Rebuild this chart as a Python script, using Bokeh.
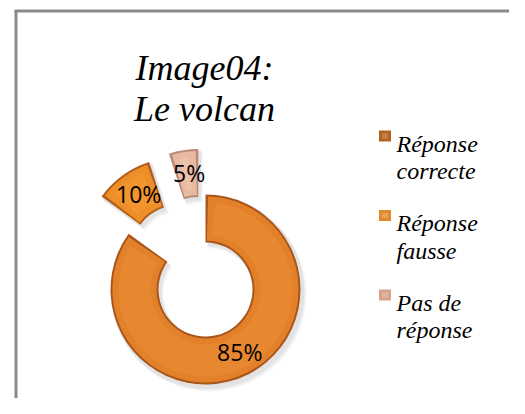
import numpy as np
from bokeh.plotting import figure
from bokeh.models import Range1d
from bokeh.core.properties import value
from bokeh.embed import file_html
from bokeh.resources import INLINE

# ---- data ----
categories = ["Réponse correcte", "Réponse fausse", "Pas de réponse"]
legend_lines = [["Réponse", "correcte"], ["Réponse", "fausse"], ["Pas de", "réponse"]]
values = [85, 10, 5]
pct_labels = ["85%", "10%", "5%"]
title_lines = ["Image04:", "Le volcan"]

# ---- styles ----
edge_colors = ["#A9561A", "#B05E1A", "#B88B78"]
body_colors = ["#E3812A", "#EE8E28", "#E8BAA2"]
light_colors = ["#EA8E36", "#F59A30", "#F0C8B4"]
legend_colors = ["#B4631E", "#E08A2A", "#D6A38A"]
explode = [0, 1, 1]
EXPLODE_PX = 46

W, H = 509, 398
REF_H = 414


def Y(sy):
    return REF_H - sy


p = figure(width=W, height=H, output_backend="svg", toolbar_location=None,
           x_range=Range1d(0, W), y_range=Range1d(Y(H), Y(0)),
           min_border=0, min_border_left=0, min_border_right=0,
           min_border_top=0, min_border_bottom=0)
p.axis.visible = False
p.xgrid.visible = False
p.ygrid.visible = False
p.outline_line_color = None
p.background_fill_color = "white"
p.border_fill_color = "white"

# frame (chart area border)
p.segment(x0=[14, 15.5], y0=[Y(10.5), Y(10.5)], x1=[W, 15.5], y1=[Y(10.5), Y(H)],
          line_color="#8a8a8a", line_width=3)

# ---- donut geometry ----
cx, cy = 205, Y(289)
r_in, r_out = 47, 95
vals = np.array(values, dtype=float)
frac = vals / vals.sum()
cum = np.concatenate([[0], np.cumsum(frac)])
a_end = np.pi / 2 - 2 * np.pi * cum[:-1]
a_start = np.pi / 2 - 2 * np.pi * cum[1:]
mid = (a_start + a_end) / 2
ex = np.array(explode) * EXPLODE_PX
xs = cx + ex * np.cos(mid)
ys = cy + ex * np.sin(mid)

# soft shadow
for dx, dy, al in [(4, -5, 0.05), (3, -4, 0.07), (2, -2.5, 0.09)]:
    p.annular_wedge(x=xs + dx, y=ys + dy, inner_radius=r_in - 1, outer_radius=r_out + 2,
                    start_angle=a_start - 0.01, end_angle=a_end + 0.01,
                    fill_color="#777777", fill_alpha=al, line_color=None)

# edge layer
p.annular_wedge(x=xs, y=ys, inner_radius=r_in, outer_radius=r_out,
                start_angle=a_start, end_angle=a_end,
                fill_color=edge_colors, line_color=None)
# body layer (inset)
ins = 2.0
rm = (r_in + r_out) / 2
p.annular_wedge(x=xs, y=ys, inner_radius=r_in + ins, outer_radius=r_out - ins,
                start_angle=a_start + ins / rm, end_angle=a_end - ins / rm,
                fill_color=body_colors, line_color=None)
# highlight band
ins2 = 8
p.annular_wedge(x=xs, y=ys, inner_radius=r_in + ins2, outer_radius=r_out - ins2,
                start_angle=a_start + ins2 / rm, end_angle=a_end - ins2 / rm,
                fill_color=light_colors, fill_alpha=0.6, line_color=None)

# percent labels
lx = xs + rm * np.cos(mid)
ly = ys + rm * np.sin(mid)
p.text(x=lx + 2, y=ly + 1, text=pct_labels, text_font=value("Open Sans"), text_font_size="23px",
       text_align="center", text_baseline="middle", text_color="#000000")

# ---- title ----
for i, t in enumerate(title_lines):
    p.text(x=[204], y=[Y(67 + 41 * i)], text=[t], text_font=value("Liberation Serif"),
           text_font_style="italic", text_font_size="36px", text_align="center",
           text_baseline="alphabetic", text_color="#000000")

# ---- legend ----
for i, lines in enumerate(legend_lines):
    base = 143 + 79.5 * i
    p.rect(x=[384.5], y=[Y(base - 7.5)], width=12, height=11,
           fill_color=legend_colors[i], line_color=None)
    p.rect(x=[384.5], y=[Y(base - 7.5)], width=6, height=5,
           fill_color="white", fill_alpha=0.2, line_color=None)
    for j, t in enumerate(lines):
        p.text(x=[396], y=[Y(base + 27.5 * j)], text=[t], text_font=value("Liberation Serif"),
               text_font_style="italic", text_font_size="24px", text_align="left",
               text_baseline="alphabetic", text_color="#000000")

open("out.html", "w").write(file_html(p, INLINE))
